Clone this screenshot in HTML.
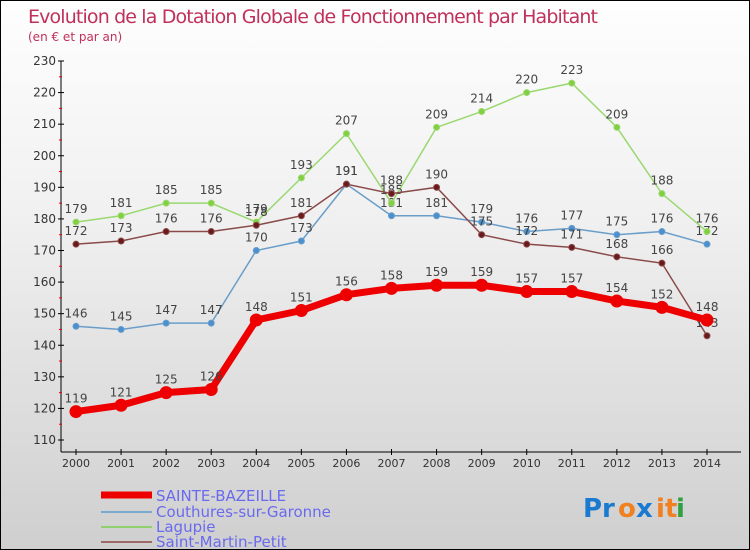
<!DOCTYPE html>
<html><head><meta charset="utf-8"><style>
body{margin:0}
#c{width:748px;height:548px;border:1px solid #000;background:linear-gradient(#fefefe,#f0f0f0 40%,#cfcfcf);position:relative;overflow:hidden;font-family:"DejaVu Sans","Liberation Sans",sans-serif}
text{font-family:"DejaVu Sans","Liberation Sans",sans-serif}
</style></head><body>
<div id="c">
<svg id="s" width="748" height="548">
<text x="27" y="22" font-size="19" fill="#c0305a" textLength="570">Evolution de la Dotation Globale de Fonctionnement par Habitant</text>
<text x="27" y="40" font-size="12" fill="#c0305a">(en € et par an)</text>
<g id="axes"></g><g id="series"></g>
<g>
<line x1="100" y1="494" x2="151" y2="494" stroke="#e00" stroke-width="7"/>
<text x="155" y="500" font-size="15" fill="#6a6aee">SAINTE-BAZEILLE</text>
<line x1="100" y1="511" x2="151" y2="511" stroke="#7aaad0" stroke-width="2"/>
<text x="155" y="516" font-size="15" fill="#6a6aee">Couthures-sur-Garonne</text>
<line x1="100" y1="526" x2="151" y2="526" stroke="#90d070" stroke-width="2"/>
<text x="155" y="531" font-size="15" fill="#6a6aee">Lagupie</text>
<line x1="100" y1="541" x2="151" y2="541" stroke="#a06a6a" stroke-width="2"/>
<text x="155" y="546" font-size="15" fill="#6a6aee">Saint-Martin-Petit</text>
</g>
<g font-size="26" font-weight="bold">
<text x="582" y="516" fill="#1a7ad0">Pr</text><text x="617" y="516" fill="#f08020">o</text><text x="635" y="516" fill="#1a7ad0">x</text><text x="655" y="516" fill="#f08020">it</text><text x="675" y="516" fill="#30a040">i</text>
</g>
</svg></div>
<script>
const years=[2000,2001,2002,2003,2004,2005,2006,2007,2008,2009,2010,2011,2012,2013,2014];
const sainte=[119,121,125,126,148,151,156,158,159,159,157,157,154,152,148];
const couthures=[146,145,147,147,170,173,191,181,181,179,176,177,175,176,172];
const lagupie=[179,181,185,185,179,193,207,185,209,214,220,223,209,188,176];
const stmartin=[172,173,176,176,178,181,191,188,190,175,172,171,168,166,143];
const yTicks=[110,120,130,140,150,160,170,180,190,200,210,220,230];
const NS="http://www.w3.org/2000/svg";
const X=i=>75+i*(706-75)/14;
const Y=v=>439-(v-110)*(439-60)/120;
function mk(t,a,p){const e=document.createElementNS(NS,t);for(const k in a)e.setAttribute(k,a[k]);p.appendChild(e);return e;}
const ax=document.getElementById('axes'),sg=document.getElementById('series');
let l=mk('line',{x1:60,y1:60,x2:60,y2:451,stroke:'#000'},ax);


l=mk('line',{x1:60,y1:451,x2:740,y2:451,stroke:'#000'},ax);


yTicks.forEach(v=>{mk('line',{x1:57,y1:Y(v),x2:63,y2:Y(v),stroke:'#000'},ax);
 if(v<230)mk('line',{x1:58,y1:Y(v+5),x2:61,y2:Y(v+5),stroke:'#e00'},ax);
 const t=mk('text',{x:55,y:Y(v)+4,'font-size':12,fill:'#333','text-anchor':'end'},ax);t.textContent=v;
 
 });
years.forEach((y,i)=>{mk('line',{x1:X(i),y1:448,x2:X(i),y2:454,stroke:'#000'},ax);
 const t=mk('text',{x:X(i),y:466,'font-size':11,fill:'#333','text-anchor':'middle'},ax);t.textContent=y;
 
 });
function draw(d,col,dot,w,r,name){
 const g=mk('g',{},sg);
 
 
 mk('polyline',{points:d.map((v,i)=>X(i)+','+Y(v)).join(' '),fill:'none',stroke:col,'stroke-width':w},g);
 d.forEach((v,i)=>{const c=mk('circle',{cx:X(i),cy:Y(v),r:r,fill:dot,stroke:col,'stroke-width':1},g);
  
  
  const t=mk('text',{x:X(i),y:Y(v)-9,'font-size':12,fill:'#444','text-anchor':'middle'},g);t.textContent=v;
  
  });
}
draw(couthures,'#6a9ec8','#4a90d0',1.5,3,'couthures');
draw(lagupie,'#9ad870','#80d040',1.5,3,'lagupie');
draw(stmartin,'#8a4a4a','#6a1a1a',1.5,3,'saint-martin');
draw(sainte,'#e00','#e00',7,6,'sainte-bazeille');
</script>
</body></html>
